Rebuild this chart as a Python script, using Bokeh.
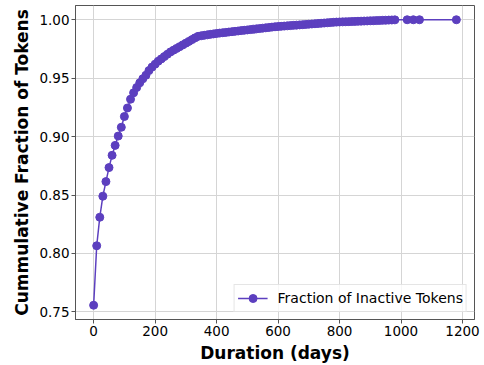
from bokeh.plotting import figure
from bokeh.models import FixedTicker, NumeralTickFormatter, Range1d
from bokeh.embed import file_html
from bokeh.resources import INLINE

days = [0, 10, 20, 30, 40, 50, 60, 70, 80, 90, 100, 110, 120, 130, 140, 150, 160, 170, 180, 190,
        200, 210, 220, 230, 240, 250, 260, 270, 280, 290, 300, 310, 320, 330, 340, 350, 360, 370, 380, 390,
        400, 410, 420, 430, 440, 450, 460, 470, 480, 490, 500, 510, 520, 530, 540, 550, 560, 570, 580, 590,
        600, 610, 620, 630, 640, 650, 660, 670, 680, 690, 700, 710, 720, 730, 740, 750, 760, 770, 780, 790,
        800, 810, 820, 830, 840, 850, 860, 870, 880, 890, 900, 910, 920, 930, 940, 950, 960, 970, 980,
        1020, 1040, 1060, 1180]
fraction = [0.7557, 0.8066, 0.831, 0.849, 0.8615, 0.8735, 0.884, 0.8925, 0.9005, 0.908,
            0.9172, 0.9245, 0.932, 0.9375, 0.942, 0.946, 0.9495, 0.9525, 0.9565, 0.9595,
            0.962, 0.9645, 0.9665, 0.9685, 0.9705, 0.9725, 0.974, 0.9755, 0.977, 0.9785,
            0.980, 0.9815, 0.983, 0.9845, 0.9858, 0.9863, 0.9867, 0.9871, 0.9875, 0.9879,
            0.9883, 0.9886, 0.9889, 0.9892, 0.9895, 0.9898, 0.9901, 0.9904, 0.9907, 0.991,
            0.9913, 0.9916, 0.9919, 0.9922, 0.9925, 0.9928, 0.9931, 0.9934, 0.9937, 0.994,
            0.9942, 0.9944, 0.9946, 0.9948, 0.995, 0.9952, 0.9954, 0.9956, 0.9958, 0.996,
            0.9962, 0.9964, 0.9966, 0.9968, 0.997, 0.9972, 0.9974, 0.9976, 0.9978, 0.998,
            0.9981, 0.9982, 0.9983, 0.9984, 0.9985, 0.9986, 0.9987, 0.9988, 0.9989, 0.999,
            0.9991, 0.9992, 0.9993, 0.9994, 0.9995, 0.9996, 0.9997, 0.9998, 0.9999,
            1.0, 1.0, 1.0, 1.0]
x_ticks = [0, 200, 400, 600, 800, 1000, 1200]
y_ticks = [0.75, 0.80, 0.85, 0.90, 0.95, 1.00]
series_label = "Fraction of Inactive Tokens"

color = "#5c3fbf"
font = "DejaVu Sans"

p = figure(width=484, height=365, output_backend="svg", toolbar_location=None,
           x_range=Range1d(-59, 1239), y_range=Range1d(0.7435, 1.0122),
           min_border_left=75, min_border_right=10, min_border_top=5, min_border_bottom=43)

p.line(days, fraction, line_color=color, line_width=1.5, legend_label=series_label)
p.scatter(days, fraction, size=8, fill_color=color, line_color=color, legend_label=series_label)

p.xaxis.ticker = FixedTicker(ticks=x_ticks)
p.yaxis.ticker = FixedTicker(ticks=y_ticks)
p.yaxis.formatter = NumeralTickFormatter(format="0.00")

p.xaxis.axis_label = "Duration (days)"
p.yaxis.axis_label = "Cummulative Fraction of Tokens"
for ax in (p.xaxis, p.yaxis):
    ax.axis_label_text_font = font
    ax.axis_label_text_font_style = "bold"
    ax.axis_label_text_font_size = "17px"
    ax.axis_label_text_color = "black"
    ax.major_label_text_font = font
    ax.major_label_text_font_size = "13.5px"
    ax.major_label_text_color = "black"
    ax.minor_tick_line_color = None
    ax.major_tick_out = 4
    ax.major_tick_in = 0
    ax.major_tick_line_color = "#555555"
    ax.axis_line_color = "#555555"
    ax.major_label_standoff = 2
    ax.axis_label_standoff = 4

p.outline_line_color = "#555555"
p.outline_line_width = 1
p.grid.grid_line_color = "#d5d5d5"
p.grid.grid_line_width = 1

p.legend.location = "bottom_right"
p.legend.margin = 7
p.legend.padding = 3
p.legend.spacing = 0
p.legend.glyph_width = 30
p.legend.glyph_height = 20
p.legend.label_height = 18
p.legend.label_standoff = 10
p.legend.label_text_font = font
p.legend.label_text_font_size = "14px"
p.legend.label_text_color = "black"
p.legend.border_line_color = "#cccccc"
p.legend.border_line_width = 1
p.legend.background_fill_alpha = 0.8

open("out.html", "w").write(file_html(p, INLINE))
